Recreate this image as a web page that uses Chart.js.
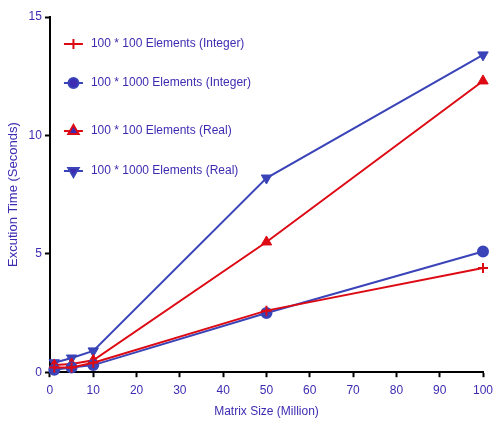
<!DOCTYPE html>
<html>
<head>
<meta charset="utf-8">
<script src="https://cdn.jsdelivr.net/npm/chart.js@4.4.1/dist/chart.umd.min.js"></script>
<style>
  html, body { margin: 0; padding: 0; background: #fff; }
  #wrap { width: 493px; height: 423px; }
</style>
</head>
<body>
<div id="wrap"><canvas id="myChart"></canvas></div>
<script>
// matrix sizes (million) and execution times (seconds)
var sizes = [1, 5, 10, 50, 100];
var int100 = [0.2, 0.2, 0.4, 2.6, 4.4];
var int1000 = [0.1, 0.2, 0.3, 2.5, 5.1];
var real100 = [0.3, 0.35, 0.5, 5.5, 12.3];
var real1000 = [0.4, 0.6, 0.9, 8.2, 13.4];
var seriesNames = ['100 * 100 Elements (Integer)', '100 * 1000 Elements (Integer)',
                   '100 * 100 Elements (Real)', '100 * 1000 Elements (Real)'];

var red = '#dd0a14';
var blue = '#3a44b8';
var textColor = '#3d2cb2';
var fontFam = 'Liberation Sans, Arial, sans-serif';

function pts(vals) {
    return vals.map(function (v, i) { return { x: sizes[i], y: v }; });
}

function makeSet(name, vals, color, style, rot, radius, pbw) {
    return {
        label: name,
        data: pts(vals),
        borderColor: color,
        backgroundColor: color,
        borderWidth: 2,
        pointStyle: style,
        pointRotation: rot,
        pointRadius: radius,
        pointBorderWidth: pbw,
        pointBorderColor: color,
        pointBackgroundColor: color,
        clip: false,
        tension: 0
    };
}

// legend drawn inside the plot like the original (line through marker)
var legendRows = [27, 66, 114, 154];
var insideLegend = {
    id: 'insideLegend',
    afterDatasetsDraw: function (chart) {
        var c = chart.ctx;
        var area = chart.chartArea;
        c.save();
        chart.data.datasets.forEach(function (ds, i) {
            var y = area.top + legendRows[i];
            var x0 = area.left + 14;
            c.strokeStyle = ds.borderColor;
            c.lineWidth = 2;
            c.beginPath();
            c.moveTo(x0, y);
            c.lineTo(x0 + 19, y);
            c.stroke();
            Chart.helpers.drawPoint(c, {
                pointStyle: ds.pointStyle,
                rotation: ds.pointRotation,
                radius: ds.pointRadius,
                borderWidth: ds.pointBorderWidth
            }, x0 + 9.5, y);
            c.fillStyle = textColor;
            c.font = '12px ' + fontFam;
            c.textBaseline = 'middle';
            c.textAlign = 'left';
            c.fillText(ds.label, x0 + 27, y);
        });
        c.restore();
    }
};

var ctx = document.getElementById('myChart').getContext('2d');
var myChart = new Chart(ctx, {
    type: 'line',
    data: {
        datasets: [
            makeSet(seriesNames[0], int100, red, 'cross', 0, 5, 2),
            makeSet(seriesNames[1], int1000, blue, 'circle', 0, 5, 2),
            makeSet(seriesNames[2], real100, red, 'triangle', 0, 6, 1),
            makeSet(seriesNames[3], real1000, blue, 'triangle', 180, 6, 1)
        ]
    },
    plugins: [insideLegend],
    options: {
        responsive: true,
        maintainAspectRatio: false,
        animation: false,
        layout: { padding: { left: 2, top: 17, right: 0, bottom: 0 } },
        plugins: {
            tooltip: { enabled: false },
            legend: { display: false }
        },
        scales: {
            x: {
                type: 'linear',
                min: 0,
                max: 100,
                afterFit: function (scale) { scale.paddingRight = 10; },
                title: {
                    display: true,
                    text: 'Matrix Size (Million)',
                    color: textColor,
                    font: { family: fontFam, size: 12 },
                    padding: { top: 1 }
                },
                ticks: {
                    stepSize: 10,
                    color: textColor,
                    font: { family: fontFam, size: 12 },
                    maxRotation: 0,
                    padding: 6
                },
                grid: { drawOnChartArea: false, color: '#000', tickLength: 5, tickWidth: 2 },
                border: { color: '#000', width: 2 }
            },
            y: {
                min: 0,
                max: 15,
                title: {
                    display: true,
                    text: 'Excution Time (Seconds)',
                    color: textColor,
                    font: { family: fontFam, size: 13 },
                    padding: { bottom: 4 }
                },
                ticks: {
                    stepSize: 5,
                    color: textColor,
                    font: { family: fontFam, size: 12 },
                    padding: 3
                },
                grid: { drawOnChartArea: false, color: '#000', tickLength: 5, tickWidth: 2 },
                border: { color: '#000', width: 2 }
            }
        }
    }
});
</script>
</body>
</html>
